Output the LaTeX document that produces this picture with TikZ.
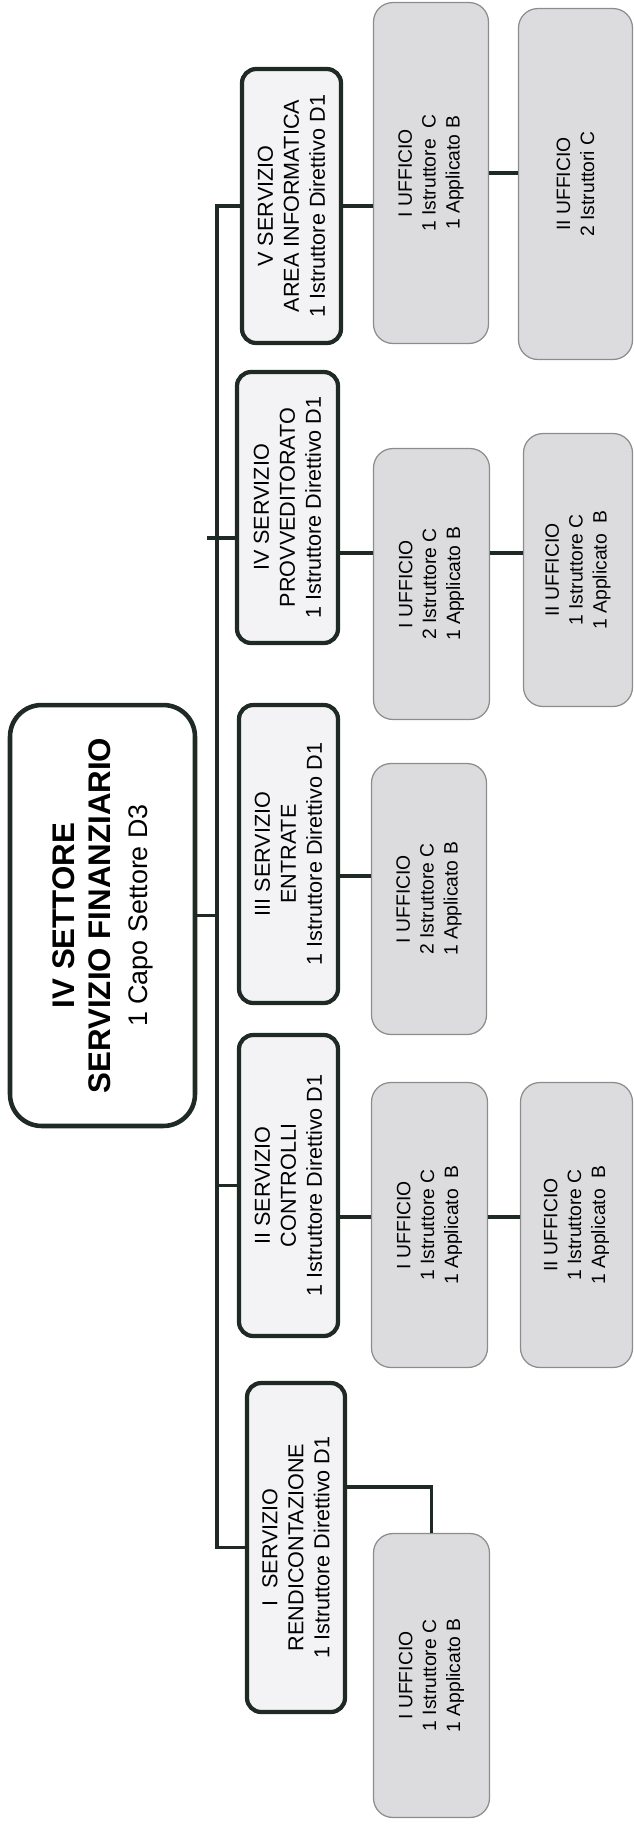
\documentclass[tikz,border=0pt]{standalone}
\usepackage{fontspec}
\setmainfont{Liberation Sans}

\definecolor{bordo}{HTML}{1F2A24}
\definecolor{fondo}{HTML}{F3F2F4}
\definecolor{grigio}{HTML}{DCDCDF}

\tikzset{
  settore/.style={draw=bordo, line width=2.6pt, fill=white, rounded corners=18pt, rotate=90, align=center, inner sep=0pt, font=\fontsize{17.8}{20.8}\selectfont},
  servizio/.style={draw=bordo, line width=2.4pt, fill=fondo, rounded corners=8pt, rotate=90, align=center, inner sep=0pt, font=\fontsize{12.3}{14.8}\selectfont},
  ufficio/.style={draw=black!45, line width=0.7pt, fill=grigio, rounded corners=11pt, rotate=90, align=center, inner sep=0pt, font=\fontsize{11}{13.6}\selectfont},
  linea/.style={draw=bordo, line width=2pt}
}

\begin{document}
\begin{tikzpicture}[x=0.02cm, y=-0.02cm]
  \useasboundingbox (0, 0) rectangle (634, 1826);

  \node[settore, minimum width=8.42cm, minimum height=3.70cm] (settore) at (102.5, 915.5)
    {\bfseries IV SETTORE\\\bfseries SERVIZIO FINANZIARIO\\\fontsize{15.3}{20.8}\selectfont 1 Capo Settore D3};

  \node[servizio, minimum width=5.48cm, minimum height=1.98cm] (sV) at (291.5, 206)
    {V SERVIZIO\\AREA INFORMATICA\\1 Istruttore Direttivo D1};
  \node[servizio, minimum width=5.42cm, minimum height=2.02cm] (sIV) at (287.5, 507.5)
    {IV SERVIZIO\\PROVVEDITORATO\\1 Istruttore Direttivo D1};
  \node[servizio, minimum width=5.96cm, minimum height=1.98cm] (sIII) at (288.5, 854)
    {III SERVIZIO\\ENTRATE\\1 Istruttore Direttivo D1};
  \node[servizio, minimum width=6.02cm, minimum height=1.98cm] (sII) at (288.5, 1185.5)
    {II SERVIZIO\\CONTROLLI\\1 Istruttore Direttivo D1};
  \node[servizio, minimum width=6.58cm, minimum height=1.96cm] (sI) at (296, 1547.5)
    {I~~SERVIZIO\\RENDICONTAZIONE\\1 Istruttore Direttivo D1};

  \node[ufficio, minimum width=6.82cm, minimum height=2.30cm] (uV1) at (431, 173)
    {I UFFICIO\\1 Istruttore~~C\\1 Applicato B};
  \node[ufficio, minimum width=7.02cm, minimum height=2.28cm] (uV2) at (575.5, 184)
    {II UFFICIO\\2 Istruttori C};
  \node[ufficio, minimum width=5.42cm, minimum height=2.32cm] (uIV1) at (431.5, 584)
    {I UFFICIO\\2 Istruttore C\\1 Applicato B};
  \node[ufficio, minimum width=5.46cm, minimum height=2.18cm] (uIV2) at (578, 570)
    {II UFFICIO\\1 Istruttore C\\1 Applicato~~B};
  \node[ufficio, minimum width=5.42cm, minimum height=2.30cm] (uIII1) at (429, 899)
    {I UFFICIO\\2 Istruttore C\\1 Applicato B};
  \node[ufficio, minimum width=5.70cm, minimum height=2.32cm] (uII1) at (429.5, 1225)
    {I UFFICIO\\1 Istruttore C\\1 Applicato~~B};
  \node[ufficio, minimum width=5.70cm, minimum height=2.24cm] (uII2) at (576.5, 1225)
    {II UFFICIO\\1 Istruttore C\\1 Applicato~~B};
  \node[ufficio, minimum width=5.68cm, minimum height=2.32cm] (uI1) at (431.5, 1675.5)
    {I UFFICIO\\1 Istruttore C\\1 Applicato B};

  \coordinate (tronco) at (217, 0);
  \coordinate (tacca) at (207, 538);

  \draw[linea] (sV.north) -| (tronco |- sI.north) -- (sI.north);
  \draw[linea] (settore.south) -- (tronco |- settore.south);
  \draw[linea] (tacca) -- (sIV.north |- tacca);
  \draw[linea] (tronco |- sII.north) -- (sII.north);

  \draw[linea] (sV.south) -- (uV1.north |- sV.south);
  \draw[linea] (uV1.south |- 0,173) -- (uV2.north |- 0,173);
  \draw[linea] (sIV.south |- 0,553) -- (uIV1.north |- 0,553);
  \draw[linea] (uIV1.south |- 0,553) -- (uIV2.north |- 0,553);
  \draw[linea] (sIII.south |- 0,876) -- (uIII1.north |- 0,876);
  \draw[linea] (sII.south |- 0,1217) -- (uII1.north |- 0,1217);
  \draw[linea] (uII1.south |- 0,1217) -- (uII2.north |- 0,1217);
  \draw[linea] (sI.south |- 0,1487) -| (uI1.east);
\end{tikzpicture}
\end{document}
